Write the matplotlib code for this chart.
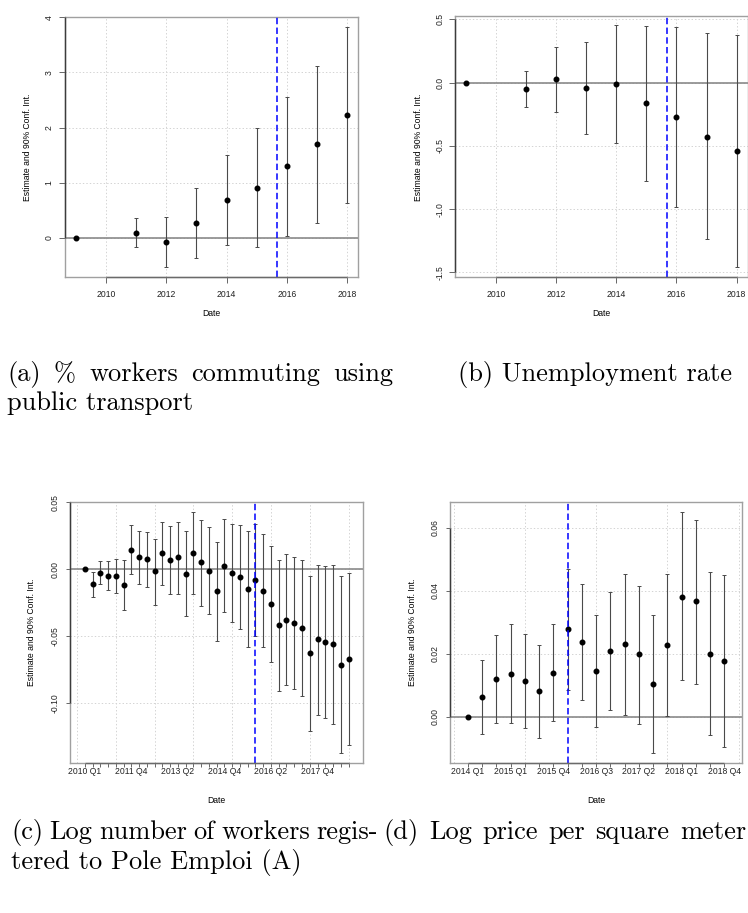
import numpy as np
import matplotlib
matplotlib.use("Agg")
import matplotlib.pyplot as plt
from matplotlib import transforms

plt.rcParams["font.family"] = "Liberation Sans"
plt.rcParams["axes.unicode_minus"] = False
plt.rcParams["lines.scale_dashes"] = False

W, H = 748, 913

# ---------------------------------------------------------------
# event-study coefficients (estimate, 90% CI bounds)
# ---------------------------------------------------------------

# (a) % workers commuting using public transport, yearly
years = [2009, 2011, 2012, 2013, 2014, 2015, 2016, 2017, 2018]
transit_est = [0.00, 0.10, -0.07, 0.27, 0.69, 0.91, 1.30, 1.70, 2.23]
transit_lo = [0.00, -0.17, -0.53, -0.37, -0.13, -0.17, 0.04, 0.27, 0.64]
transit_hi = [0.00, 0.36, 0.39, 0.90, 1.51, 1.99, 2.55, 3.11, 3.83]

# (b) unemployment rate, yearly
unemp_est = [0.000, -0.050, 0.026, -0.040, -0.013, -0.164, -0.270, -0.426, -0.540]
unemp_lo = [0.000, -0.196, -0.228, -0.405, -0.480, -0.780, -0.980, -1.240, -1.458]
unemp_hi = [0.000, 0.093, 0.280, 0.320, 0.455, 0.450, 0.437, 0.390, 0.376]

# (c) log number of workers registered to Pole Emploi (A), quarterly
pe_quarters = [
    "2010 Q1", "2010 Q3", "2010 Q4",
    "2011 Q1", "2011 Q2", "2011 Q3", "2011 Q4",
    "2012 Q1", "2012 Q2", "2012 Q3", "2012 Q4",
    "2013 Q1", "2013 Q2", "2013 Q3", "2013 Q4",
    "2014 Q1", "2014 Q2", "2014 Q3", "2014 Q4",
    "2015 Q1", "2015 Q2", "2015 Q3", "2015 Q4",
    "2016 Q1", "2016 Q2", "2016 Q3", "2016 Q4",
    "2017 Q1", "2017 Q2", "2017 Q3", "2017 Q4",
    "2018 Q1", "2018 Q2", "2018 Q3", "2018 Q4",
]
pe_est = [0.0000, -0.0113, -0.0025, -0.0048, -0.0050, -0.0118, 0.0145, 0.0090,
          0.0075, -0.0015, 0.0120, 0.0070, 0.0088, -0.0033, 0.0123, 0.0050,
          -0.0010, -0.0163, 0.0025, -0.0025, -0.0058, -0.0145, -0.0078, -0.0163,
          -0.0263, -0.0420, -0.0378, -0.0403, -0.0443, -0.0628, -0.0525, -0.0545,
          -0.0560, -0.0715, -0.0673]
pe_lo = [0.0000, -0.0208, -0.0113, -0.0158, -0.0178, -0.0303, -0.0038, -0.0113,
         -0.0133, -0.0268, -0.0120, -0.0183, -0.0183, -0.0353, -0.0185, -0.0273,
         -0.0338, -0.0535, -0.0323, -0.0395, -0.0445, -0.0580, -0.0498, -0.0585,
         -0.0693, -0.0910, -0.0868, -0.0898, -0.0945, -0.1208, -0.1088, -0.1113,
         -0.1155, -0.1378, -0.1318]
pe_hi = [0.0000, -0.0018, 0.0063, 0.0063, 0.0078, 0.0068, 0.0333, 0.0288,
         0.0278, 0.0228, 0.0355, 0.0325, 0.0355, 0.0285, 0.0430, 0.0370,
         0.0315, 0.0205, 0.0375, 0.0340, 0.0330, 0.0288, 0.0340, 0.0260,
         0.0173, 0.0068, 0.0110, 0.0093, 0.0065, -0.0050, 0.0033, 0.0025,
         0.0033, -0.0050, -0.0028]

# (d) log price per square meter, quarterly
price_quarters = [
    "2014 Q1", "2014 Q3", "2014 Q4",
    "2015 Q1", "2015 Q2", "2015 Q3", "2015 Q4",
    "2016 Q1", "2016 Q2", "2016 Q3", "2016 Q4",
    "2017 Q1", "2017 Q2", "2017 Q3", "2017 Q4",
    "2018 Q1", "2018 Q2", "2018 Q3", "2018 Q4",
]
price_est = [0.0000, 0.0061, 0.0120, 0.0136, 0.0112, 0.0080, 0.0139, 0.0278,
             0.0237, 0.0146, 0.0209, 0.0230, 0.0198, 0.0104, 0.0226, 0.0380,
             0.0366, 0.0200, 0.0176]
price_lo = [0.0000, -0.0056, -0.0019, -0.0021, -0.0035, -0.0069, -0.0014, 0.0086,
            0.0052, -0.0034, 0.0020, 0.0006, -0.0023, -0.0116, 0.0001, 0.0115,
            0.0105, -0.0059, -0.0097]
price_hi = [0.0000, 0.0181, 0.0260, 0.0293, 0.0261, 0.0227, 0.0293, 0.0470,
            0.0422, 0.0324, 0.0397, 0.0454, 0.0415, 0.0323, 0.0451, 0.0648,
            0.0625, 0.0459, 0.0448]

TREAT_YEAR = 2015.67


def px_rect(l, t, r, b):
    return [l / W, 1 - b / H, (r - l) / W, (b - t) / H]


def fig_text(fig, x, y, s, **kw):
    return fig.text(x / W, 1 - y / H, s, **kw)


def justified(fig, line, x0, x1, y, **kw):
    # lay out the words of one caption line so it spans x0..x1 exactly
    words = line.split(" ")
    renderer = fig.canvas.get_renderer()
    texts = [fig_text(fig, 0, y, w, **kw) for w in words]
    widths = [t.get_window_extent(renderer).width for t in texts]
    gap = (x1 - x0 - sum(widths)) / max(len(words) - 1, 1)
    x = x0
    for t, w in zip(texts, widths):
        t.set_x(x / W)
        x += w + gap


def coef_panel(ax, x, est, lo, hi, xlim, ylim, xticks, xlabels, yticks, ylabels,
               vgrid, treat, tick_len=4.3, xpad=3.4, ypad=4.0):
    for g in vgrid:
        ax.axvline(g, color="#d3d3d3", lw=0.7, ls=(0, (1, 1.5)), zorder=0)
    for g in yticks:
        ax.axhline(g, color="#d3d3d3", lw=0.7, ls=(0, (1, 1.5)), zorder=0)
    ax.axhline(0, color="#8a8a8a", lw=1.2, zorder=1)

    est = np.asarray(est)
    yerr = [est - np.asarray(lo), np.asarray(hi) - est]
    ax.errorbar(x, est, yerr=yerr, fmt="none", ecolor="#4a4a4a",
                elinewidth=0.8, capsize=1.6, capthick=0.7, zorder=2)
    ax.plot(x, est, "o", color="black", ms=3.3, zorder=3)
    ax.axvline(treat, color="#0000ff", lw=1.1, dashes=(4.6, 2.4), zorder=4)

    ax.set_xlim(*xlim)
    ax.set_ylim(*ylim)
    ax.set_xticks(xticks)
    ax.set_xticklabels(xlabels)
    ax.set_yticks(yticks)
    ax.set_yticklabels(ylabels, rotation=90, va="center")
    ax.tick_params(axis="both", direction="out", length=tick_len, width=0.7,
                   color="#666666", labelsize=6.2, labelcolor="#222222")
    ax.tick_params(axis="x", pad=xpad)
    ax.tick_params(axis="y", pad=ypad)
    for sp in ax.spines.values():
        sp.set_color("#a0a0a0")
        sp.set_linewidth(1.0)

    # darker axis lines over the tick range, as base R draws them
    ty = transforms.blended_transform_factory(ax.transAxes, ax.transData)
    ax.plot([0, 0], [yticks[0], yticks[-1]], transform=ty, color="#3c3c3c",
            lw=1.0, clip_on=False, zorder=5, solid_capstyle="butt")
    tx = transforms.blended_transform_factory(ax.transData, ax.transAxes)
    ax.plot([xticks[0], xticks[-1]], [0, 0], transform=tx, color="#6a6a6a",
            lw=1.0, clip_on=False, zorder=5, solid_capstyle="butt")


fig = plt.figure(figsize=(W / 100, H / 100), dpi=100)
fig.patch.set_facecolor("white")

ylab = "Estimate and 90% Conf. Int."
year_ticks = [2010, 2012, 2014, 2016, 2018]

# (a)
ax_a = fig.add_axes(px_rect(65, 16.7, 358, 276.7))
coef_panel(ax_a, years, transit_est, transit_lo, transit_hi,
           (2008.64, 2018.36), (-0.70, 4.01),
           year_ticks, [str(t) for t in year_ticks],
           [0, 1, 2, 3, 4], ["0", "1", "2", "3", "4"],
           year_ticks, TREAT_YEAR, tick_len=4.3, xpad=5.0, ypad=4.0)
fig_text(fig, 28, 147, ylab, rotation=90, ha="center", va="center", fontsize=6.2)
fig_text(fig, 211.5, 313, "Date", ha="center", va="center", fontsize=6.2)

# (b)
ax_b = fig.add_axes(px_rect(455, 15.7, 747.5, 276.7))
coef_panel(ax_b, years, unemp_est, unemp_lo, unemp_hi,
           (2008.64, 2018.36), (-1.535, 0.53),
           year_ticks, [str(t) for t in year_ticks],
           [-1.5, -1.0, -0.5, 0.0, 0.5], ["-1.5", "-1.0", "-0.5", "0.0", "0.5"],
           year_ticks, TREAT_YEAR, tick_len=4.3, xpad=5.0, ypad=3.0)
fig_text(fig, 418.3, 147, ylab, rotation=90, ha="center", va="center", fontsize=6.2)
fig_text(fig, 601, 313, "Date", ha="center", va="center", fontsize=6.2)

# (c)
pe_x = np.arange(1, len(pe_quarters) + 1)
ax_c = fig.add_axes(px_rect(70, 502.3, 363.3, 762.7))
coef_panel(ax_c, pe_x, pe_est, pe_lo, pe_hi,
           (-0.9, 36.9), (-0.1447, 0.05),
           list(pe_x), [q if i % 6 == 0 else "" for i, q in enumerate(pe_quarters)],
           [-0.10, -0.05, 0.00, 0.05], ["-0.10", "-0.05", "0.00", "0.05"],
           [0, 5, 10, 15, 20, 25, 30, 35], pe_x[pe_quarters.index("2015 Q4")],
           tick_len=2.6, xpad=0.8, ypad=5.2)
fig_text(fig, 32, 632.5, ylab, rotation=90, ha="center", va="center", fontsize=6.2)
fig_text(fig, 216, 800.7, "Date", ha="center", va="center", fontsize=6.2)

# (d)
price_x = np.arange(1, len(price_quarters) + 1)
ax_d = fig.add_axes(px_rect(450, 502.3, 742.3, 762.7))
coef_panel(ax_d, price_x, price_est, price_lo, price_hi,
           (-0.26, 20.26), (-0.0146, 0.068),
           list(price_x), [q if i % 3 == 0 else "" for i, q in enumerate(price_quarters)],
           [0.00, 0.02, 0.04, 0.06], ["0.00", "0.02", "0.04", "0.06"],
           [0, 5, 10, 15, 20], price_x[price_quarters.index("2016 Q1")],
           tick_len=2.6, xpad=0.8, ypad=5.0)
fig_text(fig, 412.3, 632.5, ylab, rotation=90, ha="center", va="center", fontsize=6.2)
fig_text(fig, 596, 800.7, "Date", ha="center", va="center", fontsize=6.2)

# sub-captions (justified like the LaTeX source)
cap = dict(family="cmr10", fontsize=19.0, ha="left", va="center", color="black")
justified(fig, "(a) % workers commuting using", 7, 393, 374, **cap)
fig_text(fig, 7, 403, "public transport", **cap)
fig_text(fig, 458, 374, "(b) Unemployment rate", **cap)
justified(fig, "(c) Log number of workers regis-", 11, 378, 832, **cap)
fig_text(fig, 11, 862, "tered to Pole Emploi (A)", **cap)
justified(fig, "(d) Log price per square meter", 383, 746, 832, **cap)

fig.savefig("out.png", dpi=100)
